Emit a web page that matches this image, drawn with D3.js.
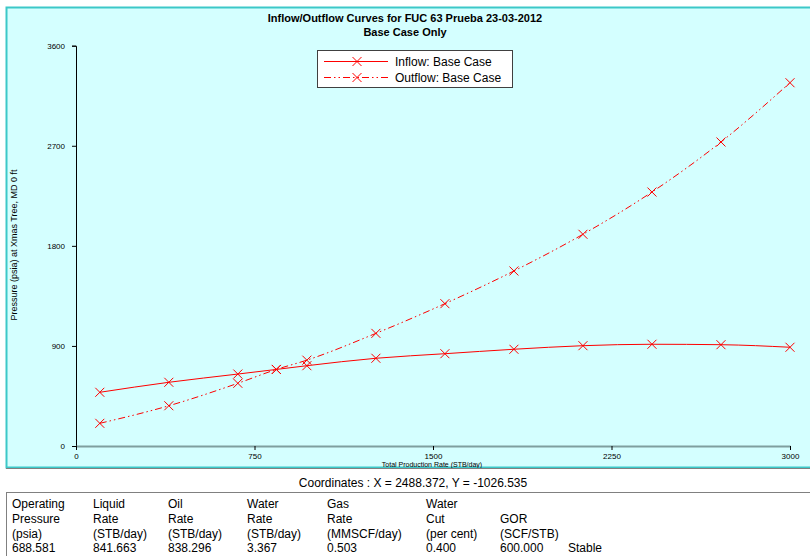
<!DOCTYPE html>
<html>
<head>
<meta charset="utf-8">
<script src="https://cdn.jsdelivr.net/npm/d3@7"></script>
<style>
  html, body { margin: 0; padding: 0; background: #ffffff; }
  svg { display: block; font-family: "Liberation Sans", Arial, sans-serif; }
</style>
</head>
<body>
<svg id="chart" width="810" height="556"></svg>
<script>
// Production rates (STB/day) and pressures (psia)
const rates = [100, 390, 680, 841.663, 970, 1260, 1550, 1840, 2130, 2420, 2710, 3000];
const inflowPressure = [483, 573, 647, 688.581, 722, 789, 830, 870, 902, 915, 911, 888];
const outflowPressure = [204, 362, 564, 688.581, 772, 1013, 1280, 1574, 1904, 2284, 2734, 3267];

const xTicks = [0, 750, 1500, 2250, 3000];
const yTicks = [0, 900, 1800, 2700, 3600];

const seriesNames = ["Inflow: Base Case", "Outflow: Base Case"];

const resultHeaders = [
  ["Operating", "Pressure", "(psia)"],
  ["Liquid", "Rate", "(STB/day)"],
  ["Oil", "Rate", "(STB/day)"],
  ["Water", "Rate", "(STB/day)"],
  ["Gas", "Rate", "(MMSCF/day)"],
  ["Water", "Cut", "(per cent)"],
  ["", "GOR", "(SCF/STB)"],
  ["", "", ""]
];
const resultValues = ["688.581", "841.663", "838.296", "3.367", "0.503", "0.400", "600.000", "Stable"];
const coordText = "Coordinates :  X = 2488.372,  Y = -1026.535";

const svg = d3.select("#chart");
const W = 810, H = 556;
const RED = "#ff0000";
const BG = "#d4ffff";

// Chart panel
svg.append("rect").attr("x", 0).attr("y", 0).attr("width", W).attr("height", H).attr("fill", "#ffffff");
svg.append("rect").attr("x", 6.5).attr("y", 7.5).attr("width", W).attr("height", 460)
  .attr("fill", BG).attr("stroke", "#3cc8c8").attr("stroke-width", 2);

// Titles
svg.append("text").attr("x", 405).attr("y", 22).attr("text-anchor", "middle")
  .attr("font-size", 11).attr("font-weight", "bold").attr("fill", "#000")
  .text("Inflow/Outflow Curves for FUC 63 Prueba 23-03-2012");
svg.append("text").attr("x", 405).attr("y", 36).attr("text-anchor", "middle")
  .attr("font-size", 11).attr("font-weight", "bold").attr("fill", "#000")
  .text("Base Case Only");

// Scales
const x = d3.scaleLinear().domain([0, 3000]).range([76, 790]);
const y = d3.scaleLinear().domain([0, 3600]).range([446, 45.7]);

// Y axis
const yAxis = svg.append("g").attr("transform", "translate(76,0)")
  .call(d3.axisLeft(y).tickValues(yTicks).tickSize(4).tickPadding(7).tickFormat(d3.format("d")));
yAxis.select(".domain").attr("stroke", "#000");
yAxis.selectAll(".tick line").attr("stroke", "#000");
yAxis.selectAll("text").attr("font-size", 8).attr("fill", "#000")
  .attr("font-family", "Liberation Sans, Arial, sans-serif");

// X axis
const xAxis = svg.append("g").attr("transform", "translate(0,446)")
  .call(d3.axisBottom(x).tickValues(xTicks).tickSize(4).tickSizeOuter(0).tickPadding(3).tickFormat(d3.format("d")));
xAxis.select(".domain").attr("stroke", "#7f9f9f").attr("stroke-width", 2);
xAxis.selectAll(".tick line").attr("stroke", "#000");
xAxis.selectAll("text").attr("font-size", 8).attr("fill", "#000")
  .attr("font-family", "Liberation Sans, Arial, sans-serif");

// Axis titles
svg.append("text").attr("x", 432).attr("y", 467).attr("text-anchor", "middle")
  .attr("font-size", 7).attr("fill", "#000").text("Total Production Rate (STB/day)");
svg.append("text").attr("transform", "translate(17,245) rotate(-90)").attr("text-anchor", "middle")
  .attr("font-size", 9).attr("fill", "#000").text("Pressure (psia) at Xmas Tree, MD 0 ft");

// Curves
const line = d3.line().x(d => x(d[0])).y(d => y(d[1])).curve(d3.curveMonotoneX);
const inflow = rates.map((r, i) => [r, inflowPressure[i]]);
const outflow = rates.map((r, i) => [r, outflowPressure[i]]);

const DASH = "7,3,1.5,3,1.5,3";
svg.append("path").datum(inflow).attr("d", line).attr("fill", "none")
  .attr("stroke", RED).attr("stroke-width", 1);
svg.append("path").datum(outflow).attr("d", line).attr("fill", "none")
  .attr("stroke", RED).attr("stroke-width", 1).attr("stroke-dasharray", DASH);

function cross(g, cx, cy, s) {
  g.append("path")
    .attr("d", `M${cx - s},${cy - s}L${cx + s},${cy + s}M${cx - s},${cy + s}L${cx + s},${cy - s}`)
    .attr("stroke", RED).attr("stroke-width", 1).attr("fill", "none");
}
const marks = svg.append("g");
inflow.concat(outflow).forEach(d => cross(marks, x(d[0]), y(d[1]), 4.5));

// Legend
const lg = svg.append("g");
lg.append("rect").attr("x", 317.5).attr("y", 50.5).attr("width", 195).attr("height", 37)
  .attr("fill", "#ffffff").attr("stroke", "#404040").attr("stroke-width", 1);
seriesNames.forEach((name, i) => {
  const ly = 61.5 + i * 16;
  lg.append("line").attr("x1", 324).attr("x2", 388).attr("y1", ly).attr("y2", ly)
    .attr("stroke", RED).attr("stroke-width", 1)
    .attr("stroke-dasharray", i === 1 ? DASH : null);
  cross(lg, 357, ly, 4.5);
  lg.append("text").attr("x", 395).attr("y", ly + 4.5).attr("font-size", 12)
    .attr("fill", "#000").text(name);
});

// Coordinates strip
svg.append("line").attr("x1", 6).attr("x2", W).attr("y1", 468.5).attr("y2", 468.5)
  .attr("stroke", "#808080");
svg.append("text").attr("x", 413).attr("y", 487).attr("text-anchor", "middle")
  .attr("font-size", 12).attr("fill", "#000").text(coordText);

// Results table
svg.append("rect").attr("x", 6.5).attr("y", 492.5).attr("width", W).attr("height", 70)
  .attr("fill", "#ffffff").attr("stroke", "#808080");
const colX = [12, 93, 168, 247, 327, 426, 500, 568];
const rowY = [508, 522.5, 537.5, 552];
resultHeaders.forEach((hdr, c) => {
  hdr.forEach((t, r) => {
    if (t) svg.append("text").attr("x", colX[c]).attr("y", rowY[r])
      .attr("font-size", 12).attr("fill", "#000").text(t);
  });
  svg.append("text").attr("x", colX[c]).attr("y", rowY[3])
    .attr("font-size", 12).attr("fill", "#000").text(resultValues[c]);
});
</script>
</body>
</html>
